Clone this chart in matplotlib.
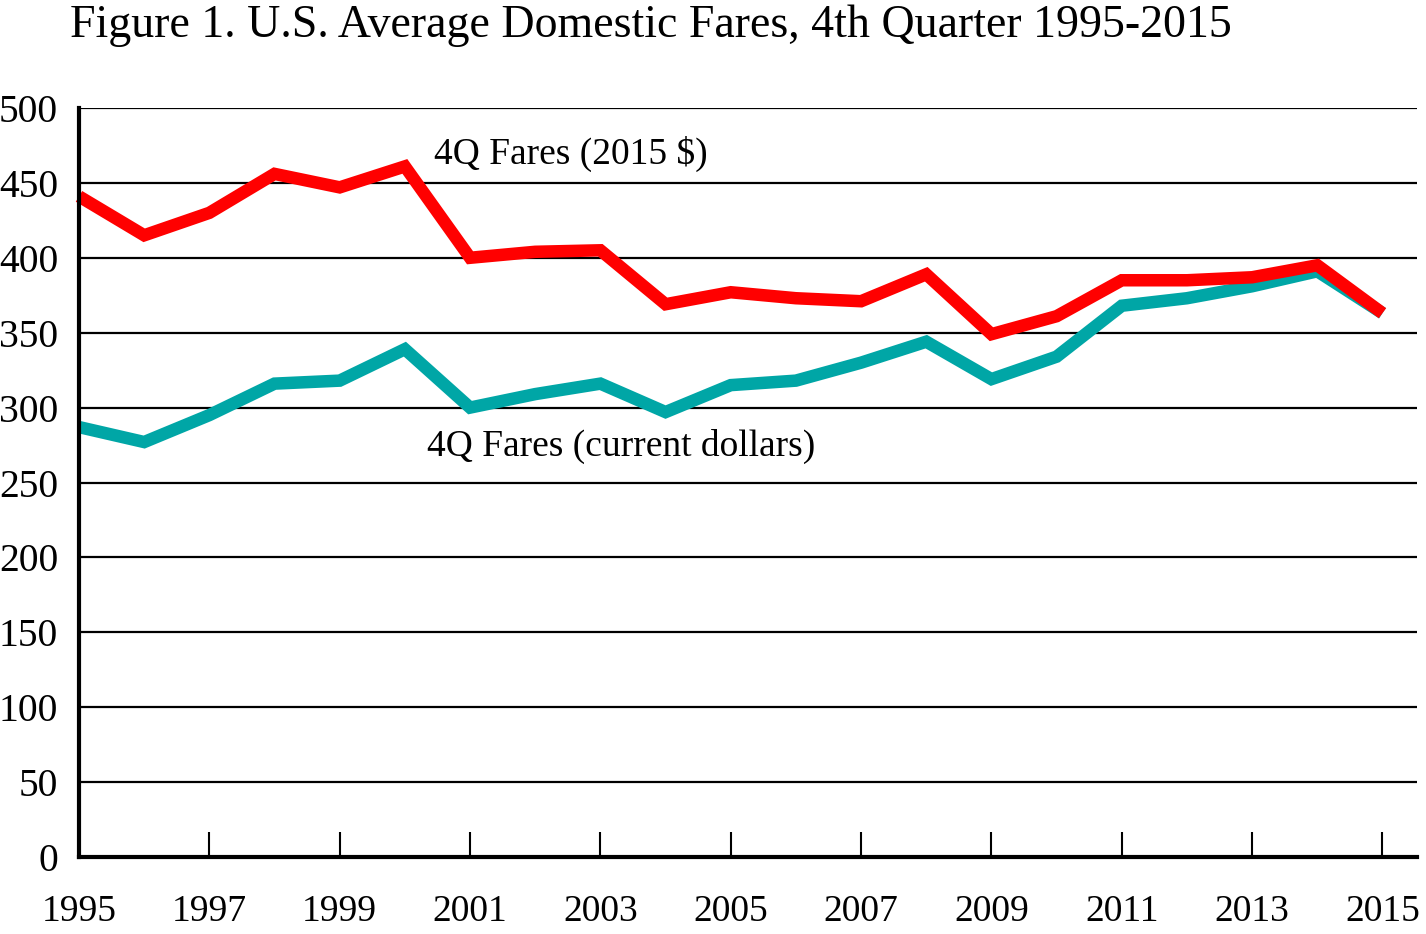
import matplotlib.pyplot as plt

years = list(range(1995, 2016))
fares_2015 = [441, 415, 430, 456, 447, 461, 400, 404, 405, 369, 377,
              373, 371, 389, 349, 361, 385, 385, 387, 395, 363]
fares_current = [287, 277, 295, 316, 318, 339, 300, 309, 316, 297, 315,
                 318, 330, 344, 319, 334, 368, 373, 381, 391, 363]

plt.rcParams['font.family'] = ['Liberation Serif', 'DejaVu Serif']

fig = plt.figure(figsize=(14.26, 9.34), dpi=100)
ax = fig.add_axes([0.0554, 0.0824, 0.9383, 0.802])

# grid lines every 50
for v in range(50, 501, 50):
    ax.axhline(v, color='black', lw=1.6, zorder=1)

ax.plot(years, fares_current, color='#00A6A6', lw=9, solid_joinstyle='miter',
        solid_capstyle='butt', zorder=3, clip_on=False)
ax.plot(years, fares_2015, color='#FF0000', lw=9, solid_joinstyle='miter',
        solid_capstyle='butt', zorder=4, clip_on=False)

ax.set_xlim(1995.09, 2015.53)
ax.set_ylim(0, 500)
ax.set_xticks(range(1995, 2016, 2))
ax.set_yticks(range(0, 501, 50))

for s in ['top', 'right']:
    ax.spines[s].set_visible(False)
for s in ['left', 'bottom']:
    ax.spines[s].set_linewidth(3)
    ax.spines[s].set_zorder(5)

ax.tick_params(axis='x', direction='in', length=18, width=1.5, pad=27, labelsize=27)
ax.tick_params(axis='y', length=0, pad=15, labelsize=28.5)

ax.text(2000.45, 469, '4Q Fares (2015 $)', fontsize=27, ha='left', va='center')
ax.text(2000.34, 274, '4Q Fares (current dollars)', fontsize=27, ha='left', va='center')

fig.text(0.049, 0.972, 'Figure 1. U.S. Average Domestic Fares, 4th Quarter 1995-2015',
         fontsize=33, ha='left', va='center')

fig.savefig('out.png', dpi=100)
